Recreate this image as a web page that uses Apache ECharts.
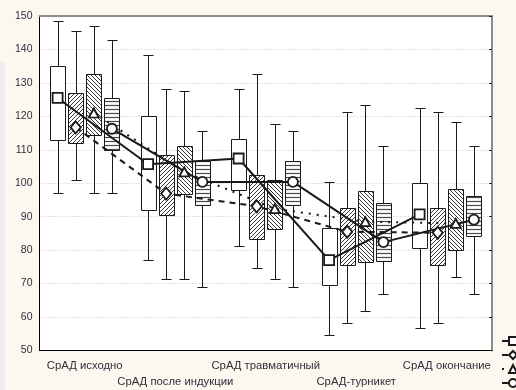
<!DOCTYPE html>
<html><head><meta charset="utf-8">
<script src="https://cdn.jsdelivr.net/npm/echarts@6/dist/echarts.min.js"></script>
<style>html,body{margin:0;padding:0;background:#fdf8ef;}#c{width:516px;height:390px;}</style>
</head><body><div id="c"></div>
<script>
// ---- data ----
const categories = ['СрАД исходно', 'СрАД после индукции', 'СрАД травматичный', 'СрАД-турникет', 'СрАД окончание'];
const yMin = 50, yMax = 150, yStep = 10;

// group 1 (white box, square)
const g1Low  = [97, 77, 81.3, 54.6, 56.7];
const g1Q1   = [113, 92, 98, 69.6, 80.5];
const g1Q3   = [135, 120, 113.2, 86.5, 100];
const g1High = [148.5, 138.4, 128.2, 100.3, 122.5];
const g1Mark = [125.5, 105.7, 107.4, 77, 90.7];
// group 2 (diagonal hatch, diamond)
const g2Low  = [101, 71.3, 74.8, 58.3, 58.3];
const g2Q1   = [112, 90.6, 83.3, 75.7, 75.7];
const g2Q3   = [127, 108.4, 102.6, 92.6, 92.6];
const g2High = [145.5, 128.1, 132.6, 121.3, 121.3];
const g2Mark = [116.7, 96.9, 93.1, 85.5, 85.2];
// group 3 (back-diagonal hatch, triangle)
const g3Low  = [97, 71.3, 71.3, 61.9, 72];
const g3Q1   = [114.5, 96.9, 86.2, 76.6, 79.9];
const g3Q3   = [132.7, 111.1, 101.1, 97.6, 98.3];
const g3High = [146.9, 127.7, 117.6, 123.3, 118.3];
const g3Mark = [121, 103.4, 92.4, 88.5, 88];
// group 4 (horizontal hatch, circle)
const g4Low  = [97, 69.1, 69.1, 66.9, 66.9];
const g4Q1   = [109.8, 93.4, 93.4, 76.8, 84.1];
const g4Q3   = [125.5, 106.6, 106.6, 94.2, 96.2];
const g4High = [142.7, 115.5, 115.5, 111.2, 111.2];
const g4Mark = [116.3, 100.4, 100.4, 82.4, 89.1];

// ---- styling / layout ----
const offsets = [-0.3, -0.1, 0.1, 0.3];
const boxFrac = 0.166;
const capFrac = 0.115;
const ink = '#1a1a1a';

function makePattern(kind) {
  const c = document.createElement('canvas');
  const s = 4;
  c.width = s; c.height = s;
  const ctx = c.getContext('2d');
  ctx.fillStyle = '#ffffff';
  ctx.fillRect(0, 0, s, s);
  ctx.strokeStyle = '#3a3a3a';
  ctx.lineWidth = 1;
  ctx.beginPath();
  if (kind === 'fwd') {
    ctx.moveTo(-1, s + 1); ctx.lineTo(s + 1, -1);
    ctx.moveTo(-1, 1); ctx.lineTo(1, -1);
    ctx.moveTo(s - 1, s + 1); ctx.lineTo(s + 1, s - 1);
  } else if (kind === 'back') {
    ctx.moveTo(-1, -1); ctx.lineTo(s + 1, s + 1);
    ctx.moveTo(s - 1, -1); ctx.lineTo(s + 1, 1);
    ctx.moveTo(-1, s - 1); ctx.lineTo(1, s + 1);
  } else if (kind === 'horiz') {
    ctx.lineWidth = 1.2;
    ctx.strokeStyle = '#4a4a4a';
    ctx.moveTo(0, 1.5); ctx.lineTo(s, 1.5);
  }
  ctx.stroke();
  return c;
}
const fills = [
  '#ffffff',
  { image: makePattern('fwd'), repeat: 'repeat' },
  { image: makePattern('back'), repeat: 'repeat' },
  { image: makePattern('horiz'), repeat: 'repeat' }
];

const groups = [
  [g1Low, g1Q1, g1Q3, g1High, g1Mark],
  [g2Low, g2Q1, g2Q3, g2High, g2Mark],
  [g3Low, g3Q1, g3Q3, g3High, g3Mark],
  [g4Low, g4Q1, g4Q3, g4High, g4Mark]
];
const names = ['Группа 1', 'Группа 2', 'Группа 3', 'Группа 4'];
const symbols = ['rect', 'diamond', 'triangle', 'circle'];
const symbolSizes = [10, [10, 12], [10, 9], 10];
const lineTypes = ['solid', [6, 5], [2, 6], 'solid'];

function boxRenderer(gi) {
  return function (params, api) {
    const cat = api.value(0);
    const band = api.size([1, 0])[0];
    const cx0 = api.coord([cat, yMin])[0] + band * offsets[gi];
    const cx = Math.round(cx0) + 0.5;
    const bw = Math.round(band * boxFrac);
    const cw = Math.round(band * capFrac);
    const yl = Math.round(api.coord([cat, api.value(1)])[1]) + 0.5;
    const y1 = Math.round(api.coord([cat, api.value(2)])[1]) + 0.5;
    const y3 = Math.round(api.coord([cat, api.value(3)])[1]) + 0.5;
    const yh = Math.round(api.coord([cat, api.value(4)])[1]) + 0.5;
    const left = Math.round(cx0 - bw / 2) + 0.5;
    const ls = { stroke: ink, lineWidth: 1 };
    const cl = Math.round(cx0 - cw / 2) + 0.5;
    return {
      type: 'group',
      children: [
        { type: 'line', shape: { x1: cx, y1: yh, x2: cx, y2: y3 }, style: ls },
        { type: 'line', shape: { x1: cx, y1: y1, x2: cx, y2: yl }, style: ls },
        { type: 'line', shape: { x1: cl, y1: yh, x2: cl + cw, y2: yh }, style: ls },
        { type: 'line', shape: { x1: cl, y1: yl, x2: cl + cw, y2: yl }, style: ls },
        { type: 'rect', shape: { x: left, y: y3, width: bw, height: y1 - y3 },
          style: { fill: fills[gi], stroke: ink, lineWidth: 1 } }
      ]
    };
  };
}

const series = [];
groups.forEach(function (g, gi) {
  const data = categories.map(function (c, i) { return [i, g[0][i], g[1][i], g[2][i], g[3][i]]; });
  series.push({
    type: 'custom', name: 'box' + gi, xAxisIndex: 0, yAxisIndex: 0, z: 2,
    renderItem: boxRenderer(gi), data: data,
    encode: { x: 0, y: [1, 2, 3, 4] }, silent: true
  });
});
groups.forEach(function (g, gi) {
  series.push({
    type: 'line', name: names[gi], xAxisIndex: 2, yAxisIndex: 0, z: 5,
    data: categories.map(function (c, i) { return [i + offsets[gi], g[4][i]]; }),
    symbol: symbols[gi], symbolSize: symbolSizes[gi], showAllSymbol: true,
    lineStyle: { color: ink, width: 2, type: lineTypes[gi] },
    itemStyle: { color: '#ffffff', borderColor: ink, borderWidth: 1.8 },
    emphasis: { disabled: true }, animation: false
  });
});

const labelColor = '#2e2e3e';
const chart = echarts.init(document.getElementById('c'), null, { renderer: 'canvas' });
chart.setOption({
  animation: false,
  backgroundColor: '#fdf8ef',
  textStyle: { fontFamily: 'Liberation Sans, Arial, sans-serif' },
  graphic: [
    { type: 'rect', left: 0, top: 62, shape: { width: 5, height: 328 }, style: { fill: '#eeeeee' }, silent: true, z: -10 }
  ],
  grid: { left: 39.5, right: 24, top: 16, bottom: 39.5, show: true, backgroundColor: '#ffffff', borderWidth: 0 },
  legend: {
    orient: 'vertical', left: 501, top: 336, padding: 0, itemGap: 4,
    itemWidth: 22, itemHeight: 10, formatter: function () { return ''; },
    data: names, selectedMode: false
  },
  xAxis: [
    { type: 'category', data: categories, position: 'bottom', gridIndex: 0,
      axisLine: { onZero: false, lineStyle: { color: '#000', width: 1 } },
      axisTick: { inside: true, length: 3, alignWithLabel: true, lineStyle: { color: '#000' } },
      axisLabel: { interval: 0, margin: 7, fontSize: 11.3, lineHeight: 16, color: labelColor,
        formatter: function (v, i) { return i % 2 ? '\n' + v : v; } },
      splitLine: { show: false } },
    { type: 'category', data: categories, position: 'top', gridIndex: 0,
      axisLine: { onZero: false, lineStyle: { color: '#8c8c8c', width: 2 } },
      axisTick: { inside: true, length: 3, alignWithLabel: true, lineStyle: { color: '#222' } },
      axisLabel: { show: false }, splitLine: { show: false } },
    { type: 'value', min: -0.5, max: categories.length - 0.5, show: false, gridIndex: 0,
      axisLine: { onZero: false } }
  ],
  yAxis: [
    { type: 'value', min: yMin, max: yMax, interval: yStep, position: 'left',
      axisLine: { show: true, onZero: false, lineStyle: { color: '#000', width: 1 } },
      axisTick: { show: false },
      axisLabel: { fontSize: 10.5, margin: 7, color: labelColor },
      splitLine: { show: true, lineStyle: { color: '#c4c4c4', type: [1, 2], width: 1 } } },
    { type: 'value', min: yMin, max: yMax, interval: yStep, position: 'right',
      axisLine: { show: true, onZero: false, lineStyle: { color: '#8c8c8c', width: 2 } },
      axisTick: { show: true, inside: true, length: 3, lineStyle: { color: '#222' } },
      axisLabel: { show: false }, splitLine: { show: false } }
  ],
  series: series
});
</script></body></html>
